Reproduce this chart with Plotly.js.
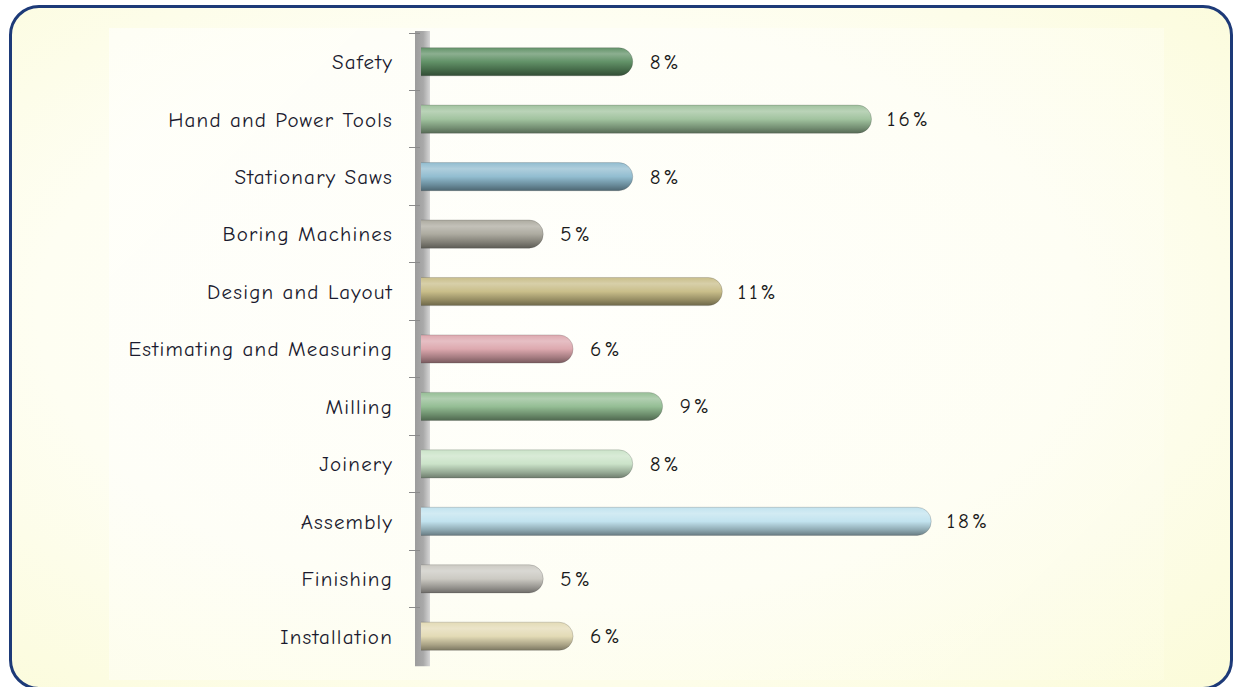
<!DOCTYPE html>
<html>
<head>
<meta charset="utf-8">
<script src="https://cdn.plot.ly/plotly-3.0.1.min.js"></script>
<style>
  html, body { margin:0; padding:0; background:#ffffff; width:1238px; height:687px; overflow:hidden; }
  #frame { position:absolute; left:9px; top:5px; width:1218px; height:679px;
    border:3px solid #1d3a78; border-radius:30px;
    background: radial-gradient(ellipse at 45% 45%, #fffffb 0%, #fefef2 55%, #fbfbd8 100%); }
  #inner { position:absolute; left:97px; top:20px; width:1055px; height:652px;
    background: linear-gradient(135deg, rgba(255,255,255,0.55) 0%, rgba(255,255,250,0.35) 60%, rgba(255,255,240,0.2) 100%); }
  #chart { position:absolute; left:0; top:0; width:1238px; height:687px; }
  #chart .ytick text { letter-spacing: 1.2px; }
  #chart .bartext { letter-spacing: 3px; }
</style>
</head>
<body>
<div id="frame"><div id="inner"></div></div>
<div id="chart"></div>
<script>
const categories = ["Safety", "Hand and Power Tools", "Stationary Saws", "Boring Machines",
  "Design and Layout", "Estimating and Measuring", "Milling", "Joinery", "Assembly",
  "Finishing", "Installation"];
const percents = [8, 16, 8, 5, 11, 6, 9, 8, 18, 5, 6];
const barColors = ["#5a8c60", "#9cc09a", "#8cb9cd", "#a9a79b", "#c6bb84", "#dba4ab",
  "#8fbb8f", "#c8e2c6", "#bfe2ee", "#c9c7c0", "#e2d9b2"];

const fontFam = "'Comic Sans MS', 'Comic Neue', Lato, sans-serif";

const trace = {
  type: "bar",
  orientation: "h",
  y: categories,
  x: percents,
  width: 0.49,
  marker: { color: barColors, cornerradius: 14, line: { color: "rgba(60,60,60,0.35)", width: 0.6 } },
  texttemplate: "\u00a0\u00a0%{x}%",
  textposition: "outside",
  cliponaxis: false,
  outsidetextfont: { family: fontFam, size: 21, color: "#1a1a1a" },
  hoverinfo: "skip"
};

const layout = {
  width: 1238, height: 687,
  margin: { l: 421, r: 88, t: 33, b: 22 },
  paper_bgcolor: "rgba(0,0,0,0)",
  plot_bgcolor: "rgba(0,0,0,0)",
  showlegend: false,
  xaxis: { range: [0.905, 25.33], showgrid: false, zeroline: false, showticklabels: false,
    ticks: "", showline: false, fixedrange: true },
  yaxis: { type: "category", autorange: "reversed", showgrid: false, zeroline: false,
    ticks: "outside", tickson: "boundaries", ticklen: 11, tickcolor: "#8a8a8a", tickwidth: 1,
    ticklabelstandoff: 27, showline: false,
    tickfont: { family: fontFam, size: 21, color: "#1a1a2e" }, fixedrange: true },
  shapes: [{
    type: "rect", layer: "below",
    xref: "x domain", xsizemode: "pixel", xanchor: 0, x0: -6, x1: 9,
    yref: "paper", y0: -0.002, y1: 1.003,
    fillcolor: "#a5a5a5", line: { width: 0 }
  }]
};

function shade(hex, f) {
  const n = parseInt(hex.slice(1), 16);
  let r = (n >> 16) & 255, g = (n >> 8) & 255, b = n & 255;
  if (f >= 0) { r += (255 - r) * f; g += (255 - g) * f; b += (255 - b) * f; }
  else { r *= (1 + f); g *= (1 + f); b *= (1 + f); }
  return "rgb(" + Math.round(r) + "," + Math.round(g) + "," + Math.round(b) + ")";
}

Plotly.newPlot("chart", [trace], layout, { displayModeBar: false, staticPlot: true }).then(gd => {
  const NS = "http://www.w3.org/2000/svg";
  const svg = gd.querySelector("svg.main-svg");
  let defs = svg.querySelector("defs");
  if (!defs) { defs = document.createElementNS(NS, "defs"); svg.insertBefore(defs, svg.firstChild); }
  const wg = document.createElementNS(NS, "linearGradient");
  wg.setAttribute("id", "wallgrad"); wg.setAttribute("x1", "0"); wg.setAttribute("x2", "1");
  wg.setAttribute("y1", "0"); wg.setAttribute("y2", "0");
  [["0", "#9c9c9c"], ["0.55", "#a9a9a9"], ["1", "#d6d6d6"]].forEach(s => {
    const st = document.createElementNS(NS, "stop");
    st.setAttribute("offset", s[0]); st.setAttribute("stop-color", s[1]); wg.appendChild(st);
  });
  defs.appendChild(wg);
  const wall = gd.querySelector(".layer-below .shapelayer path");
  if (wall) wall.style.fill = "url(#wallgrad)";

  const paths = gd.querySelectorAll(".barlayer .trace .point path");
  paths.forEach((p, i) => {
    const c = barColors[i % barColors.length];
    const lg = document.createElementNS(NS, "linearGradient");
    lg.setAttribute("id", "bg" + i);
    lg.setAttribute("x1", "0"); lg.setAttribute("x2", "0");
    lg.setAttribute("y1", "0"); lg.setAttribute("y2", "1");
    [["0", shade(c, 0.05)], ["0.22", shade(c, 0.3)], ["0.5", shade(c, 0.05)],
     ["0.8", shade(c, -0.25)], ["1", shade(c, -0.45)]].forEach(s => {
      const st = document.createElementNS(NS, "stop");
      st.setAttribute("offset", s[0]); st.setAttribute("stop-color", s[1]); lg.appendChild(st);
    });
    defs.appendChild(lg);
    p.style.fill = "url(#bg" + i + ")";
  });
});
</script>
</body>
</html>
